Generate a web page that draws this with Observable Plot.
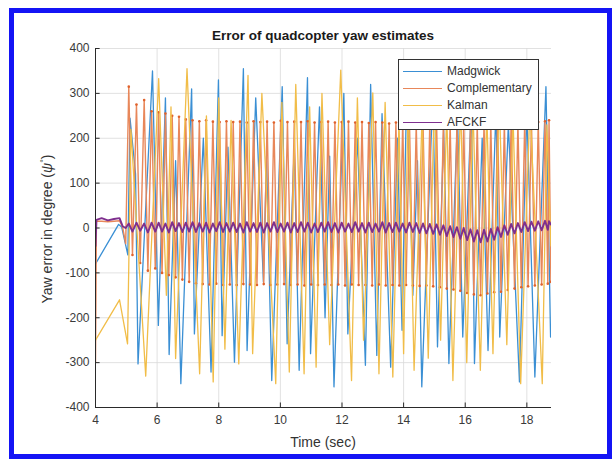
<!DOCTYPE html>
<html><head><meta charset="utf-8">
<script src="https://cdn.jsdelivr.net/npm/d3@7"></script>
<script src="https://cdn.jsdelivr.net/npm/@observablehq/plot@0.6"></script>
<style>
html,body{margin:0;padding:0;background:#fff;}
#wrap{position:relative;width:612px;height:459px;overflow:hidden;background:#fff;font-family:"Liberation Sans",Arial,Helvetica,sans-serif;}
#chart{position:absolute;left:0;top:0;}
.bar{position:absolute;background:#1414f5;}
#title{position:absolute;left:123px;width:400px;top:28px;text-align:center;font-weight:bold;font-size:13.5px;color:#1a1a1a;}
#xlabel{position:absolute;left:223px;width:200px;top:434px;text-align:center;font-size:14px;color:#333;}
#ylabel{position:absolute;left:47px;top:229px;transform:translate(-50%,-50%) rotate(-90deg);white-space:nowrap;font-size:14px;color:#333;}
#legend{position:absolute;left:398px;top:59px;width:141px;height:71px;border:1px solid #333;background:#fff;box-sizing:border-box;}
.li{position:absolute;left:0;height:14px;width:140px;font-size:12px;color:#333;}
.li span.sw{position:absolute;left:4px;top:7px;width:39px;height:0;border-top:1.2px solid;}
.li span.tx{position:absolute;left:48px;top:0;line-height:14px;}
</style>
</head><body>
<div id="wrap">
  <div id="chart"></div>
  <div id="title">Error of quadcopter yaw estimates</div>
  <div id="xlabel">Time (sec)</div>
  <div id="ylabel">Yaw error in degree (<i>ψ</i><sup style="font-size:9px">°</sup>)</div>
  <div id="legend"></div>
  <div class="bar" style="left:9px;top:8px;width:603px;height:5px"></div>
  <div class="bar" style="left:9px;top:454px;width:603px;height:5px"></div>
  <div class="bar" style="left:9px;top:8px;width:5px;height:451px"></div>
  <div class="bar" style="left:607px;top:8px;width:5px;height:451px"></div>
</div>
<script>
const tickX = [4, 6, 8, 10, 12, 14, 16, 18];
const tickY = [-400, -300, -200, -100, 0, 100, 200, 300, 400];
const seriesNames = ["Madgwick", "Complementary", "Kalman", "AFCKF"];
const seriesColors = ["#3a8fd4", "#e8875a", "#f1bd48", "#7e2f8e"];

const madgwickT = [4.00,4.75,4.85,5.05,5.12,5.30,5.38,5.85,6.04,6.27,6.39,6.60,6.77,7.12,7.21,7.50,7.75,7.99,8.11,8.30,8.51,8.80,8.92,9.20,9.45,9.55,9.72,10.06,10.22,10.45,10.61,10.88,10.98,11.27,11.45,11.60,11.74,12.06,12.19,12.50,12.76,12.93,13.13,13.30,13.58,13.80,13.95,14.11,14.30,14.45,14.59,14.95,15.10,15.30,15.47,15.75,15.92,16.20,16.30,16.55,16.74,17.00,17.12,17.40,17.76,18.00,18.26,18.62,18.77];
const madgwickV = [-80,8,2,-60,245,120,-303,350,-217,290,-282,150,-347,310,-236,200,-321,330,-240,180,-299,355,-273,290,-120,160,-340,315,-258,180,-317,335,-280,270,-200,160,-354,300,-236,200,-306,320,-284,255,-310,200,-228,345,-150,150,-354,300,-265,220,-302,250,-243,280,-302,200,-273,270,-243,230,-343,260,-332,315,-243];

const kalmanT = [4.00,4.78,5.04,5.15,5.63,6.05,6.30,6.45,6.60,6.97,7.38,7.60,7.82,8.00,8.20,8.40,8.65,8.95,9.10,9.40,9.85,10.05,10.29,10.50,10.77,10.95,11.16,11.35,11.60,11.96,12.31,12.50,12.70,13.00,13.20,13.40,13.65,13.85,14.00,14.15,14.34,14.60,14.80,15.00,15.20,15.40,15.60,15.85,16.05,16.25,16.49,16.70,16.90,17.10,17.35,17.55,17.80,18.10,18.50,18.65,18.78];
const kalmanV = [-250,-160,-258,220,-330,333,-150,270,-291,355,-325,250,-343,290,-270,240,-303,340,-280,300,-347,280,-321,320,-325,270,-310,300,-260,352,-340,290,-250,301,-325,280,-332,240,-280,290,-317,250,-290,300,-250,260,-340,280,-300,270,-317,260,-280,290,-260,250,-347,270,-347,230,-40];

const fastT = [4.00,4.03,4.20,4.40,4.60,4.78,4.88,4.98,
 5.08,5.20,5.33,5.45,5.58,5.70,5.82,5.94,
 6.05,6.16,6.27,6.38,6.49,6.60,6.71,6.82,6.93,7.04,
 7.15,7.26,7.37,7.48,7.59,7.70,7.81,7.92,8.03,8.14,
 8.25,8.36,8.47,8.58,8.69,8.80,8.91,9.02,9.13,9.24,
 9.35,9.46,9.57,9.68,9.79,9.90,10.01,10.12,10.23,10.34,
 10.45,10.56,10.67,10.78,10.89,11.00,11.11,11.22,11.33,11.44,
 11.55,11.66,11.77,11.88,11.99,12.10,12.21,12.32,12.43,12.54,
 12.65,12.76,12.87,12.98,13.09,13.20,13.31,13.42,13.53,13.64,
 13.75,13.86,13.97,14.08,14.19,14.30,14.41,14.52,14.63,14.74,
 14.85,14.96,15.07,15.18,15.29,15.40,15.51,15.62,15.73,15.84,
 15.95,16.06,16.17,16.28,16.39,16.50,16.61,16.72,16.83,16.94,
 17.05,17.16,17.27,17.38,17.49,17.60,17.71,17.82,17.93,18.04,
 18.15,18.26,18.37,18.48,18.59,18.68,18.72,18.78];
const complementaryV = [-300,15,15,14,15,16,2,-35,
 315,-60,275,-78,285,-95,260,-90,
 258,-100,255,-105,250,-110,248,-115,242,-120,
 240,-123,238,-125,240,-126,237,-124,236,-127,
 238,-126,236,-127,237,-125,235,-126,238,-127,
 236,-125,237,-127,235,-126,239,-125,236,-127,
 237,-126,236,-128,238,-126,235,-127,236,-126,
 237,-127,235,-126,236,-128,237,-126,235,-127,
 236,-127,234,-128,236,-126,235,-128,233,-127,
 235,-128,234,-127,236,-128,233,-129,235,-128,
 234,-130,235,-132,233,-135,234,-137,235,-140,
 233,-145,234,-148,232,-150,234,-146,235,-143,
 236,-142,235,-138,236,-135,234,-132,236,-130,
 237,-128,236,-126,238,-124,240,-120];
const afckfV = [-40,18,22,17,20,22,4,0,
 10,-8,12,-6,10,-10,12,-8,
 12,-8,10,-10,13,-7,11,-9,12,-8,
 13,-9,11,-8,12,-10,10,-7,13,-9,
 11,-8,12,-9,10,-10,13,-8,11,-9,
 12,-10,11,-8,13,-9,10,-8,12,-10,
 11,-9,13,-8,12,-10,10,-9,12,-8,
 13,-9,11,-10,12,-8,10,-9,13,-8,
 11,-10,12,-9,10,-8,13,-10,11,-9,
 12,-8,10,-10,12,-9,11,-11,10,-12,
 9,-13,8,-15,6,-18,4,-20,2,-24,
 0,-27,-3,-30,-5,-32,-4,-30,-2,-26,
 2,-20,6,-15,9,-12,11,-9,13,-7,
 14,-6,15,-5,16,-4,15,8];

const toRows = (T, V) => T.slice(0, Math.min(T.length, V.length)).map((t, i) => ({t, v: V[i]}));
const madgwick = toRows(madgwickT, madgwickV);
const complementary = toRows(fastT, complementaryV);
const kalman = toRows(kalmanT, kalmanV);
const afckf = toRows(fastT, afckfV);
const compDots = complementary.filter(d => d.t >= 5.05);

const axisColor = "#2a2a2a";
const chart = Plot.plot({
  width: 612, height: 459,
  marginLeft: 95, marginRight: 61, marginTop: 48, marginBottom: 52,
  style: {fontFamily: "Liberation Sans, Arial, sans-serif", fontSize: "12px", color: "#3a3a3a", background: "transparent", overflow: "visible"},
  x: {domain: [4, 18.8]},
  y: {domain: [-400, 400]},
  marks: [
    Plot.gridX(tickX, {stroke: "#d9d9d9", strokeOpacity: 1, strokeWidth: 0.8}),
    Plot.gridY(tickY, {stroke: "#d9d9d9", strokeOpacity: 1, strokeWidth: 0.8}),
    Plot.line(madgwick, {x: "t", y: "v", stroke: seriesColors[0], strokeWidth: 1.3, clip: true}),
    Plot.line(complementary, {x: "t", y: "v", stroke: seriesColors[1], strokeWidth: 1.4, clip: true}),
    Plot.dot(compDots, {x: "t", y: "v", r: 1.3, fill: "#e0622c", stroke: null, clip: true}),
    Plot.line(kalman, {x: "t", y: "v", stroke: seriesColors[2], strokeWidth: 1.3, clip: true}),
    Plot.line(afckf, {x: "t", y: "v", stroke: seriesColors[3], strokeWidth: 1.9, clip: true}),
    Plot.ruleX([4], {stroke: axisColor, strokeWidth: 1}),
    Plot.ruleY([-400], {stroke: axisColor, strokeWidth: 1}),
    Plot.ruleX(tickX, {y1: -400, y2: -390, stroke: axisColor}),
    Plot.ruleY(tickY, {x1: 4, x2: 4.15, stroke: axisColor}),
    Plot.axisX(tickX, {tickSize: 0, tickPadding: 8, label: null, fontSize: 12, tickFormat: d => String(d)}),
    Plot.axisY(tickY, {tickSize: 0, tickPadding: 6, label: null, fontSize: 12, tickFormat: d => String(d)})
  ]
});
document.getElementById("chart").appendChild(chart);

const legend = document.getElementById("legend");
const rowTops = [4, 21, 38, 55];
seriesNames.forEach((name, i) => {
  const row = document.createElement("div");
  row.className = "li";
  row.style.top = rowTops[i] + "px";
  row.innerHTML = `<span class="sw" style="border-color:${seriesColors[i]}"></span><span class="tx">${name}</span>`;
  legend.appendChild(row);
});
</script>
</body></html>
